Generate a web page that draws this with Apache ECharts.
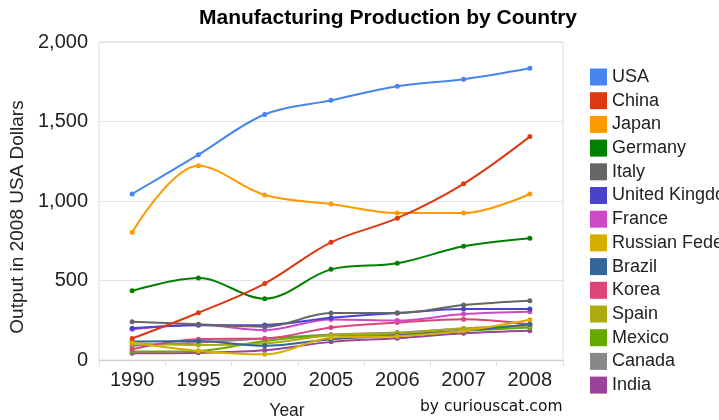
<!DOCTYPE html>
<html>
<head>
<meta charset="utf-8">
<script src="https://cdn.jsdelivr.net/npm/echarts@6/dist/echarts.min.js"></script>
<style>html,body{margin:0;padding:0;background:#fff}#c{width:719px;height:420px}</style>
</head>
<body>
<div id="c"></div>
<script>
const years = ['1990','1995','2000','2005','2006','2007','2008'];
const countries = ['USA','China','Japan','Germany','Italy','United Kingdom','France','Russian Federation','Brazil','Korea','Spain','Mexico','Canada','India'];
const colors = ['#4684ee','#dc3912','#ff9900','#008000','#666666','#4942cc','#cb4ac5','#d6ae00','#336699','#dd4477','#aaaa11','#66aa00','#888888','#994499'];
const usa = [1044, 1291, 1544, 1633, 1722, 1766, 1835];
const china = [135, 297, 481, 740, 892, 1108, 1405];
const japan = [804, 1222, 1038, 981, 924, 924, 1044];
const germany = [435, 515, 386, 570, 608, 715, 766];
const italy = [240, 225, 209, 295, 295, 346, 373];
const uk = [200, 218, 220, 265, 295, 321, 321];
const france = [194, 222, 188, 255, 248, 289, 304];
const russia = [110, 57, 36, 140, 150, 184, 253];
const brazil = [116, 120, 89, 131, 156, 184, 225];
const korea = [68, 131, 135, 205, 236, 257, 225];
const spain = [104, 95, 104, 155, 170, 198, 215];
const mexico = [53, 57, 120, 155, 160, 184, 205];
const canada = [89, 110, 135, 160, 173, 198, 215];
const india = [42, 46, 61, 114, 137, 168, 184];
const yTicks = [0, 500, 1000, 1500, 2000];
const values = [usa, china, japan, germany, italy, uk, france, russia, brazil, korea, spain, mexico, canada, india];

const font = 'Liberation Sans, Arial, sans-serif';
const chart = echarts.init(document.getElementById('c'));
chart.setOption({
  animation: false,
  color: colors,
  title: {
    text: 'Manufacturing Production by Country',
    left: 388, top: 8, textAlign: 'center', padding: 0,
    textStyle: { fontFamily: font, fontSize: 21, fontWeight: 'bold', color: '#000' }
  },
  graphic: [
    { type: 'text', x: 420, y: 407,
      style: { text: 'by curiouscat.com', font: '15.5px DejaVu Sans', fill: '#111', verticalAlign: 'middle' } },
    { type: 'text', x: 287, y: 411,
      style: { text: 'Year', font: '17.5px ' + font, fill: '#222', align: 'center', verticalAlign: 'middle' } },
    { type: 'text', x: 18, y: 217, rotation: Math.PI / 2,
      style: { text: 'Output in 2008 USA Dollars', font: '19px ' + font, fill: '#222', align: 'center', verticalAlign: 'middle' } }
  ],
  legend: {
    orient: 'vertical', left: 590, top: 68, padding: 0,
    icon: 'rect', itemWidth: 17, itemHeight: 17, itemGap: 5.7,
    textStyle: { fontFamily: font, fontSize: 18, lineHeight: 17, color: '#222' },
    data: countries
  },
  grid: { left: 99, right: 156, top: 42, bottom: 60, show: true, borderColor: '#dddddd', borderWidth: 1, outerBoundsMode: 'none' },
  xAxis: {
    type: 'category', data: years, boundaryGap: true,
    axisLine: { lineStyle: { color: '#cccccc' } },
    axisTick: { show: true, lineStyle: { color: '#dddddd' }, length: 6 },
    axisLabel: { fontFamily: font, fontSize: 20, color: '#222', margin: 10 }
  },
  yAxis: {
    type: 'value', min: 0, max: 2000, interval: 500,
    axisLine: { show: false }, axisTick: { show: false },
    splitLine: { lineStyle: { color: '#e4e4e4', width: 1 } },
    axisLabel: { fontFamily: font, fontSize: 20, color: '#222', margin: 11,
      formatter: v => yTicks.includes(v) ? v.toLocaleString('en-US') : '' }
  },
  series: countries.map((name, i) => ({
    name, type: 'line', data: values[i], smooth: 0.35,
    symbol: 'circle', symbolSize: 5, showSymbol: true,
    lineStyle: { width: 2 }, z: 20 - i
  }))
});
</script>
</body>
</html>
